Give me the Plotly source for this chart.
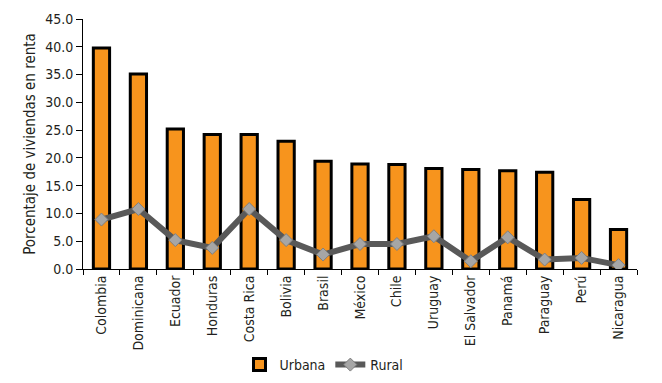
import plotly.graph_objects as go

paises = ["Colombia", "Dominicana", "Ecuador", "Honduras", "Costa Rica", "Bolivia", "Brasil",
          "México", "Chile", "Uruguay", "El Salvador", "Panamá", "Paraguay", "Perú", "Nicaragua"]
urbana = [39.8, 35.1, 25.2, 24.2, 24.2, 23.0, 19.4, 18.9, 18.8, 18.1, 17.9, 17.7, 17.4, 12.5, 7.1]
rural = [8.9, 10.8, 5.2, 3.8, 10.8, 5.2, 2.6, 4.5, 4.5, 5.9, 1.4, 5.7, 1.7, 2.0, 0.7]
y_ticks = [0, 5, 10, 15, 20, 25, 30, 35, 40, 45]

FONT = "DejaVu Sans Condensed, sans-serif"

fig = go.Figure()
fig.add_trace(go.Bar(
    x=paises, y=urbana, name="Urbana",
    marker=dict(color="#F7941D", line=dict(color="black", width=3)),
    width=0.44,
))
fig.add_trace(go.Scatter(
    x=paises, y=rural, name="Rural", mode="lines+markers",
    line=dict(color="#595959", width=6),
    marker=dict(symbol="diamond", size=10, color="#A6A6A6", line=dict(color="#7F7F7F", width=1)),
))

fig.update_layout(
    width=662, height=383,
    margin=dict(l=83, r=25, t=19, b=114, autoexpand=False),
    plot_bgcolor="white", paper_bgcolor="white",
    font=dict(family=FONT, size=14, color="#231F20"),
    showlegend=True,
    legend=dict(orientation="h", x=0.435, xanchor="center", y=-0.384, yanchor="middle",
                font=dict(size=14), itemwidth=30, tracegroupgap=0),
)
fig.update_xaxes(
    range=[-0.5, len(paises) - 0.5],
    tickangle=-90, showline=True, linecolor="black", linewidth=1,
    ticks="outside", ticklen=5, tickcolor="black", tickson="boundaries",
    tickfont=dict(size=14), showgrid=False, automargin=False,
)
fig.update_yaxes(
    range=[0, 45], tickvals=y_ticks, ticktext=[f"{v:.1f}" for v in y_ticks],
    showline=True, linecolor="black", linewidth=1,
    ticks="outside", ticklen=6, tickcolor="black", showgrid=False, zeroline=False,
    title=dict(text="Porcentaje de viviendas en renta", font=dict(size=15), standoff=5),
    tickfont=dict(size=14), automargin=False,
)

fig.write_html("out.html", config={"displayModeBar": False},
               post_script="document.body.style.margin='0';")
